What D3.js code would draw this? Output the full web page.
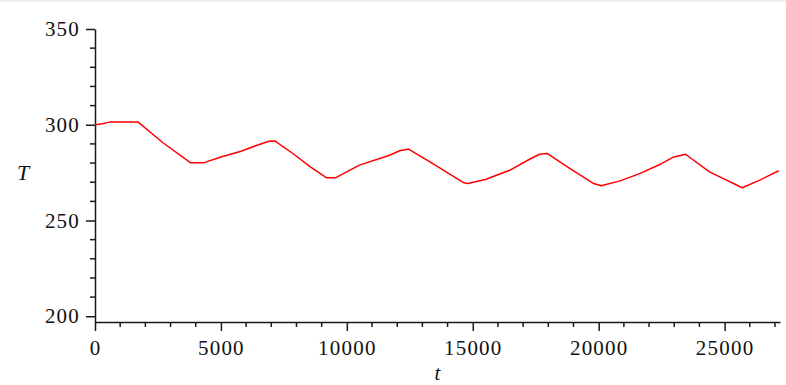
<!DOCTYPE html>
<html>
<head>
<meta charset="utf-8">
<script src="https://cdn.jsdelivr.net/npm/d3@7/dist/d3.min.js"></script>
<style>
  html, body { margin: 0; padding: 0; background: #ffffff; }
  svg { display: block; }
</style>
</head>
<body>
<svg id="chart" width="786" height="385"></svg>
<script>
// Data (t in seconds, T in kelvin)
const tValues = [0, 300, 600, 1700, 2700, 3800, 4300, 5000, 5800, 6500, 6900, 7150,
  7900, 8550, 9200, 9550, 9750, 10500, 11700, 12100, 12450, 13300, 14650, 14800,
  15500, 16500, 17200, 17650, 17950, 18850, 19800, 20100, 20850, 21650, 22450, 22950, 23450,
  24400, 25700, 26400, 27150];
const TValues = [300, 300.5, 301.5, 301.5, 290.6, 280.1, 280.1, 283.2, 286.2, 289.6, 291.4, 291.5,
  284.6, 278.0, 272.3, 272.3, 273.7, 278.9, 284.1, 286.4, 287.3, 280.6, 269.7, 269.3,
  271.4, 276.4, 281.6, 284.6, 285.0, 277.2, 269.3, 268.1, 270.7, 274.6, 279.4, 283.0, 284.6,
  275.4, 267.1, 271.1, 276.0];
const xTicks = [0, 5000, 10000, 15000, 20000, 25000];
const yTicks = [200, 250, 300, 350];
const xDomain = [0, 27200];
const yDomain = [197, 350];

(function () {
const svg = d3.select("#chart");
const W = 786, H = 385;
svg.append("rect").attr("x", 0).attr("y", 0).attr("width", W).attr("height", 2).attr("fill", "#efefef");

const mLeft = 95, mRight = 780, mTop = 29, mBottom = 322;
const x = d3.scaleLinear().domain(xDomain).range([mLeft, mRight]);
const y = d3.scaleLinear().domain(yDomain).range([mBottom, mTop]);

const axisColor = "#1a1a1a";
const labelFont = '"Liberation Serif", "Times New Roman", serif';

const xMinor = d3.range(1000, xDomain[1], 1000).filter(v => v % 5000 !== 0);
const yMinor = d3.range(200, 350, 10).filter(v => v % 50 !== 0);

const gx = svg.append("g").attr("transform", `translate(0,${mBottom})`);
gx.call(d3.axisBottom(x).tickValues(xTicks).tickFormat(d3.format("d")).tickSize(9).tickPadding(9).tickSizeOuter(0));
gx.append("g").selectAll("line").data(xMinor).join("line")
  .attr("x1", d => x(d)).attr("x2", d => x(d)).attr("y1", 0).attr("y2", 5)
  .attr("stroke", axisColor).attr("stroke-width", 1.5);

const gy = svg.append("g").attr("transform", `translate(${mLeft},0)`);
gy.call(d3.axisLeft(y).tickValues(yTicks).tickFormat(d3.format("d")).tickSize(9).tickPadding(6).tickSizeOuter(0));
gy.append("g").selectAll("line").data(yMinor).join("line")
  .attr("x1", 0).attr("x2", -5).attr("y1", d => y(d)).attr("y2", d => y(d))
  .attr("stroke", axisColor).attr("stroke-width", 1.5);

[gx, gy].forEach(g => {
  g.select(".domain").attr("stroke", axisColor).attr("stroke-width", 1.5);
  g.selectAll(".tick line").attr("stroke", axisColor).attr("stroke-width", 1.5);
  g.selectAll(".tick text").attr("fill", "#111").attr("font-size", 21)
    .attr("font-family", labelFont).attr("letter-spacing", "1.2px");
});

const line = d3.line().x((d, i) => x(tValues[i])).y((d, i) => y(TValues[i]));
svg.append("path").datum(TValues).attr("d", line)
  .attr("fill", "none").attr("stroke", "#ff0000").attr("stroke-width", 1.5)
  .attr("stroke-linejoin", "round");

svg.append("text").attr("x", x((xDomain[0] + xDomain[1]) / 2)).attr("y", 380)
  .attr("text-anchor", "middle").attr("font-family", labelFont).attr("font-style", "italic")
  .attr("font-size", 21).attr("fill", "#111").text("t");
svg.append("text").attr("x", 23).attr("y", 180)
  .attr("text-anchor", "middle").attr("font-family", labelFont).attr("font-style", "italic")
  .attr("font-size", 22).attr("fill", "#111").text("T");
})();
</script>
</body>
</html>
